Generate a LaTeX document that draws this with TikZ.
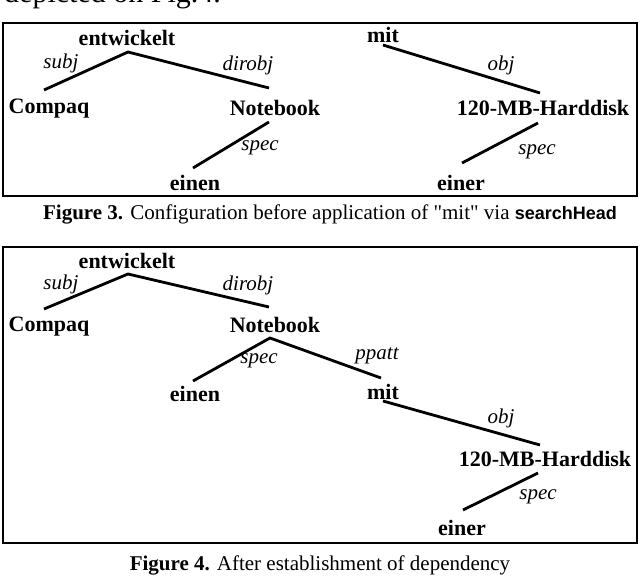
\documentclass[tikz,border=0pt]{standalone}
\usepackage{fontspec}
\setmainfont{Liberation Serif}
\newfontfamily\capsans{Liberation Sans}
\begin{document}
\begin{tikzpicture}[x=1pt,y=-1pt,
  word/.style={font=\fontsize{22}{22}\selectfont\bfseries,inner sep=0pt,anchor=center},
  rel/.style={font=\fontsize{21}{21}\selectfont\itshape,inner sep=0pt},
  edge/.style={line width=2.8pt},
  captext/.style={font=\fontsize{21}{21}\selectfont,inner sep=0pt}]
\useasboundingbox (0,0) rectangle (640,577);
\node[font=\fontsize{30}{30}\selectfont,anchor=base west,inner sep=0pt] (top) at (4,3) {depicted on Fig.4.};
% Figure 3
\draw[line width=1.8pt] (3,23) rectangle (637,196);
\node[word] (e3) at (127,38) {entwickelt};
\coordinate (e3a) at (128,52);
\coordinate (c3a) at (44,90);
\coordinate (n3a) at (269,88);
\node[word] (c3) at (49,109) {Compaq};
\node[word] (n3) at (275,108) {Notebook};
\coordinate (n3b) at (269,122);
\coordinate (ei3a) at (193,168);
\node[word] (ei3) at (195,183) {einen};
\node[word] (m3) at (383,35) {mit};
\coordinate (m3a) at (383,45);
\coordinate (h3a) at (540,93);
\node[word] (h3) at (543,108) {120-MB-Harddisk};
\coordinate (h3b) at (538,123);
\coordinate (er3a) at (462,163);
\node[word] (er3) at (461,183) {einer};
\draw[edge] (c3a) -- (e3a) -- (n3a);
\draw[edge] (n3b) -- (ei3a);
\draw[edge] (m3a) -- (h3a);
\draw[edge] (h3b) -- (er3a);
\node[rel] (l1) at (61,63) {subj};
\node[rel] (l2) at (248,65) {dirobj};
\node[rel] (l3) at (260,148) {spec};
\node[rel] (l4) at (501,65) {obj};
\node[rel] (l5) at (537,152) {spec};
\node[captext] (cap3) at (330,214) {\textbf{Figure 3.} Configuration before application of \textquotedbl mit\textquotedbl{} via {\capsans\bfseries\fontsize{18}{18}\selectfont searchHead}};
% Figure 4
\draw[line width=1.8pt] (3,247) rectangle (637,543);
\node[word] (e4) at (127,261) {entwickelt};
\coordinate (e4a) at (128,274);
\coordinate (c4a) at (44,309);
\coordinate (n4a) at (269,307);
\node[word] (c4) at (49,327) {Compaq};
\node[word] (n4) at (275,325) {Notebook};
\coordinate (n4b) at (270,338);
\coordinate (ei4a) at (193,381);
\coordinate (m4a) at (381,378);
\node[word] (ei4) at (195,394) {einen};
\node[word] (m4) at (383,392) {mit};
\coordinate (m4b) at (383,401);
\coordinate (h4a) at (540,445);
\node[word] (h4) at (545,459) {120-MB-Harddisk};
\coordinate (h4b) at (538,473);
\coordinate (er4a) at (463,510);
\node[word] (er4) at (462,528) {einer};
\draw[edge] (c4a) -- (e4a) -- (n4a);
\draw[edge] (ei4a) -- (n4b) -- (m4a);
\draw[edge] (m4b) -- (h4a);
\draw[edge] (h4b) -- (er4a);
\node[rel] (k1) at (61,284) {subj};
\node[rel] (k2) at (248,285) {dirobj};
\node[rel] (k3) at (259,361) {spec};
\node[rel] (k4) at (377,356) {ppatt};
\node[rel] (k5) at (501,418) {obj};
\node[rel] (k6) at (538,497) {spec};
\node[captext] (cap4) at (320,565) {\textbf{Figure 4.} After establishment of dependency};
\end{tikzpicture}
\end{document}
